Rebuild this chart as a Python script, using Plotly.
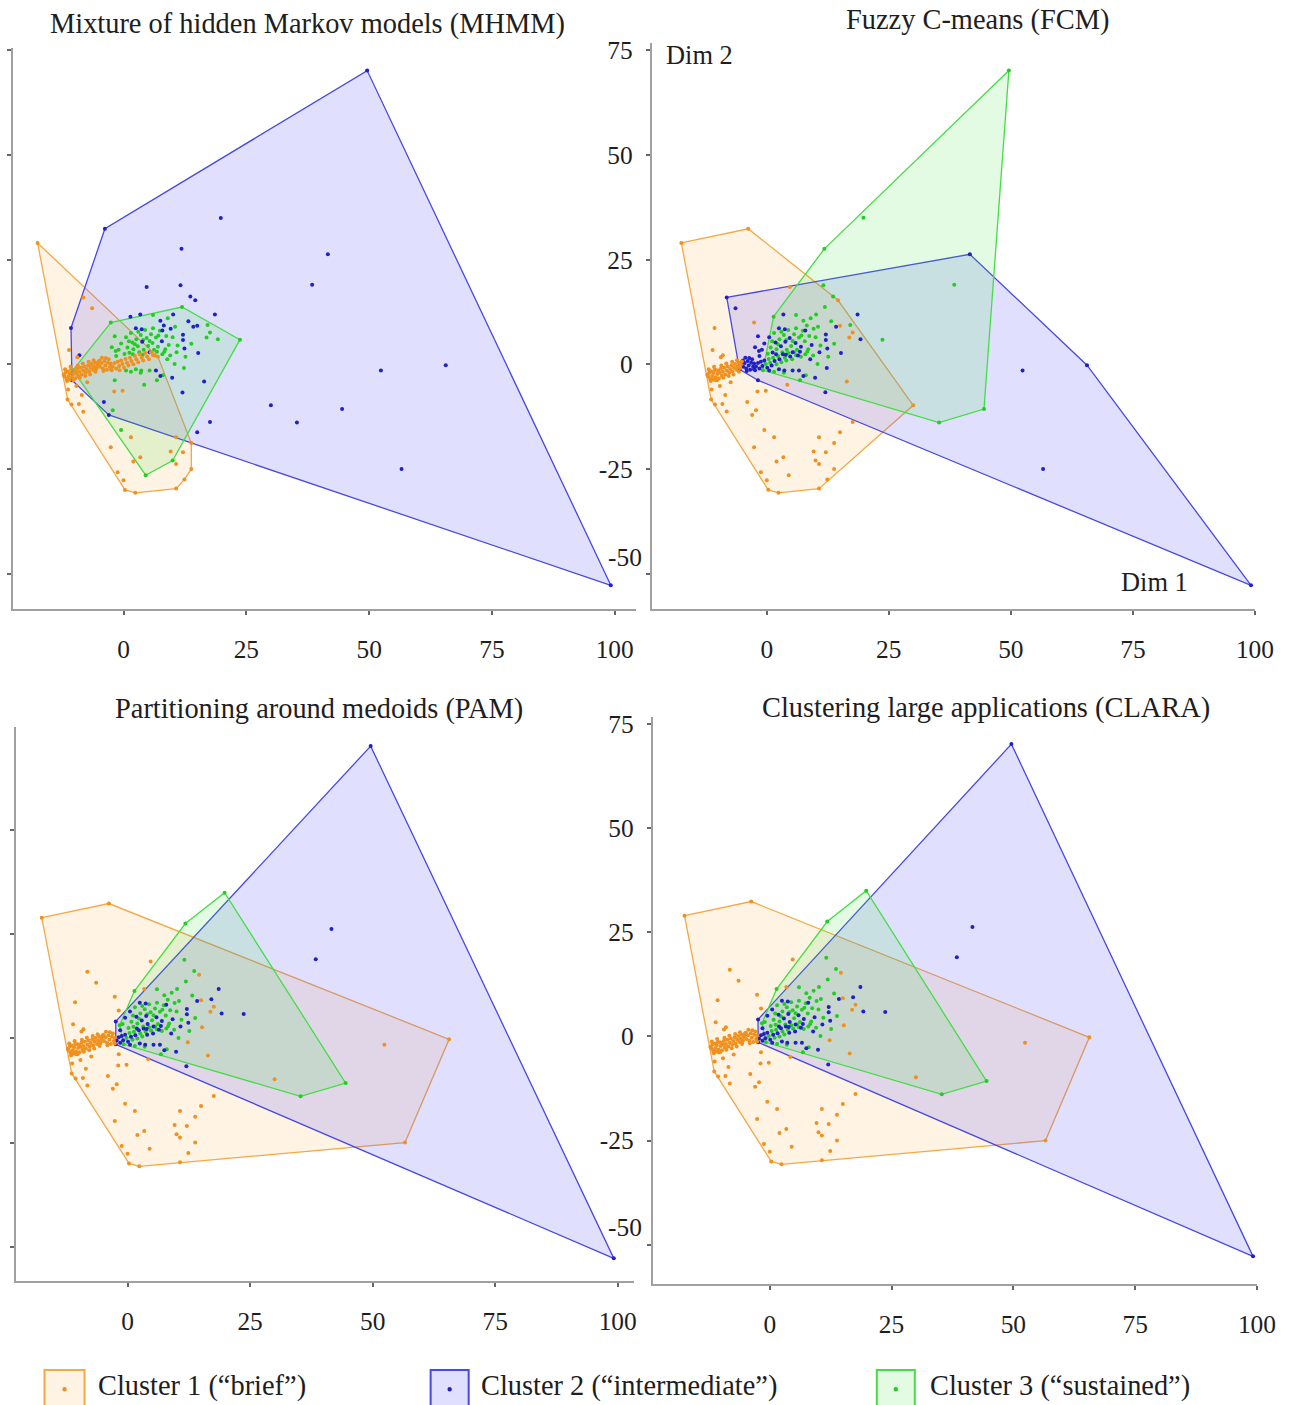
import plotly.graph_objects as go

FW, FH = 1296, 1405

# ---------------------------------------------------------------
# Data: projected observations (Dim 1, Dim 2), grouped by their
# cluster labels in (MHMM, FCM, PAM, CLARA). 1=brief, 2=intermediate, 3=sustained
# ---------------------------------------------------------------
g1111 = [(-17.5, 29.0), (-12.2, -2.5),
         (-12.0, -2.9), (-11.8, -2.0), (-11.6, -3.5), (-11.4, -1.7), (-11.2, -2.8), (-11.0, -3.6),
         (-10.9, -2.1), (-10.7, -1.3), (-10.5, -3.1), (-10.1, -2.3), (-9.9, -1.5), (-9.8, -3.3),
         (-9.6, -2.0), (-9.4, -1.0), (-9.2, -2.7), (-9.0, -1.8), (-8.7, -0.8), (-8.5, -2.4),
         (-8.2, -1.5), (-8.0, -0.5), (-7.7, -2.0), (-7.5, -1.1), (-7.2, -0.2), (-7.0, -1.7),
         (-6.7, -0.8), (-6.5, 0.1), (-6.2, -1.3), (-6.0, -0.5), (-5.8, 0.4), (-5.5, -0.9),
         (-5.3, -0.1), (-5.1, 0.7),
         (-11.9, -1.2), (-11.5, -4.0), (-10.8, -0.6), (-10.2, -3.8), (-9.3, -0.3), (-8.9, -3.2),
         (-8.3, 0.2), (-7.8, -2.8), (-7.1, 0.6), (-6.8, -2.4), (-6.1, 1.0), (-5.7, -1.8),
         (-11.1, 3.4), (-9.4, 1.7), (-11.3, -6.0), (-11.4, -8.4), (-10.6, -9.6), (-9.1, -9.5),
         (-8.5, -7.3), (-8.2, -11.3), (-7.4, -4.3), (-9.6, -5.2), (-1.9, -6.5), (-0.2, -6.3),
         (1.5, -17.4), (3.4, -22.2), (2.0, -23.2), (-2.6, -19.8), (10.7, -17.4), (9.6, -20.8),
         (12.1, -21.0), (10.7, -23.8), (13.8, -25.0), (-1.2, -25.8), (0.0, -27.7), (0.3, -30.0),
         (2.4, -30.7), (10.7, -29.7), (12.4, -27.5), (13.8, -18.8)]
g2111 = [(-3.8, 32.4), (-10.7, 8.7), (-10.5, -3.8), (-4.0, -9.0), (-3.0, -12.1), (30.0, -9.8),
         (14.6, 15.3), (15.0, 9.2), (16.4, -4.1), (17.6, -13.8), (15.0, -16.2), (4.7, 18.5),
         (-9.0, 2.2)]
g3111 = [(-2.6, 10.0), (16.9, 6.4), (17.6, 7.6), (4.2, -4.9), (-0.5, -15.7), (4.5, -26.5),
         (10.0, -23.0), (-2.2, -11.0), (-10.3, -1.4)]
g1211 = [(-8.2, 16.0), (-6.4, 13.4), (-5.6, -1.2), (-5.2, 0.1), (-4.9, 0.9), (-4.8, -0.6),
         (-4.5, 0.3), (-4.4, 1.6), (-4.2, -1.0), (-4.1, -1.6), (-3.9, 0.8), (-3.7, -0.3),
         (-3.6, 1.5), (-3.4, -1.3), (-3.2, 0.4), (-3.0, 1.2), (-2.8, -0.6), (-2.6, 0.2),
         (-2.6, -1.2)]
g3211 = [(-1.8, -3.8), (-1.8, 6.7), (12.3, -0.9)]
g2211 = [(65.6, -0.2), (52.4, -1.5), (56.6, -25.0), (15.2, 2.7), (3.4, 11.9)]
g2222 = [(99.2, -52.8), (41.6, 26.3), (12.0, -6.7), (18.6, 11.9), (14.2, 9.0), (12.1, 7.1),
         (12.1, 5.8), (3.7, 8.4), (2.5, 8.6), (3.8, 5.4), (5.3, 2.9), (7.9, 8.1), (6.6, -1.5),
         (12.4, 3.8), (9.9, -3.2), (7.5, -2.8)]
g2322 = [(49.6, 70.2), (38.4, 19.0)]
g2333 = [(44.5, -10.7), (35.3, -13.9), (19.8, 35.0), (11.8, 27.6), (11.6, 18.9), (13.6, 16.2),
         (13.2, 10.3), (7.8, 5.5), (9.6, 8.5), (7.5, 10.4), (1.4, 11.4), (8.2, 9.3), (10.1, 11.9)]
g3322 = [(23.7, 5.9), (17.1, 9.4), (4.1, 3.5)]
g3222 = [(19.2, 6.0), (-1.5, 2.0), (-0.5, 5.0), (0.5, 6.5), (1.8, 5.2), (2.9, 4.3), (5.9, 5.1),
         (7.0, 4.2), (9.2, 4.6), (0.5, -1.5), (2.5, -1.2), (3.6, -1.5), (5.3, -1.5), (-2.4, 4.1),
         (1.9, 2.4), (3.9, 2.3), (6.8, 3.0), (8.9, 1.2), (10.8, 2.9)]
g3233 = [(-1.6, 3.2), (-1.0, 3.5), (1.2, 2.8), (4.7, 6.3)]
g3333 = [(11.9, 13.7), (10.0, 6.5), (8.5, 3.6), (10.4, 0.1), (6.8, -3.8), (6.0, 11.8), (9.0, 11.0),
         (10.5, 9.0), (0.2, 2.5), (0.8, 4.0), (1.5, 7.5), (2.0, 3.6), (2.6, 6.0), (3.2, 2.9),
         (3.5, 7.0), (4.4, 8.2), (5.0, 4.4), (5.6, 7.2), (6.2, 3.5), (6.6, 6.4), (7.4, 8.0),
         (8.3, 3.0), (8.7, 6.8), (1.5, -1.8), (3.5, -2.0), (8.0, -2.6),
         (1.1, 5.5), (2.3, 4.8), (3.0, 7.8), (4.0, 5.8), (5.3, 5.6), (6.0, 8.6), (7.1, 6.9),
         (7.9, 2.4), (9.5, 2.1), (11.0, 4.5), (12.6, 1.8), (13.8, 4.9)]
g1222 = [(-2.4, -1.4), (-2.2, -0.5), (-1.8, 0.3), (-1.5, -1.0), (-1.2, 0.6), (-0.9, -0.4),
         (-0.5, 0.9), (0.1, -0.8), (1.6, 0.8), (3.3, 2.4), (6.4, 2.1)]
g1233 = [(1.0, -0.3), (2.6, 1.2), (4.8, 1.9)]
g1333 = [(-0.8, -1.4), (-0.2, 0.1), (0.4, 1.3), (1.3, 1.6), (2.0, 0.0), (3.0, 0.5), (3.7, 1.6),
         (4.4, 2.7), (5.6, 2.9), (6.0, 2.2), (7.0, 1.8)]
g1322 = [(0.7, 0.4), (2.3, 2.0), (4.0, 0.9), (5.2, 1.2)]

GROUPS = [((1, 1, 1, 1), g1111), ((2, 1, 1, 1), g2111), ((3, 1, 1, 1), g3111),
          ((1, 2, 1, 1), g1211), ((3, 2, 1, 1), g3211), ((2, 2, 1, 1), g2211),
          ((2, 2, 2, 2), g2222), ((2, 3, 2, 2), g2322), ((2, 3, 3, 3), g2333),
          ((3, 3, 2, 2), g3322), ((3, 2, 2, 2), g3222), ((3, 2, 3, 3), g3233),
          ((3, 3, 3, 3), g3333), ((1, 2, 2, 2), g1222), ((1, 2, 3, 3), g1233),
          ((1, 3, 3, 3), g1333), ((1, 3, 2, 2), g1322)]

dim1, dim2 = [], []
lab_mhmm, lab_fcm, lab_pam, lab_clara = [], [], [], []
for labs, pts in GROUPS:
    for x, y in pts:
        dim1.append(x)
        dim2.append(y)
        lab_mhmm.append(labs[0])
        lab_fcm.append(labs[1])
        lab_pam.append(labs[2])
        lab_clara.append(labs[3])

cluster_names = {1: "Cluster 1 (\u201cbrief\u201d)",
                 2: "Cluster 2 (\u201cintermediate\u201d)",
                 3: "Cluster 3 (\u201csustained\u201d)"}
x_ticks = [0, 25, 50, 75, 100]
y_ticks = [-50, -25, 0, 25, 50, 75]
y_ticktext = ["", "-25", "0", "25", "50", "75"]   # "-50" drawn separately (raised, as in original)

# ---------------------------------------------------------------
# Styles
# ---------------------------------------------------------------
PT = {1: "#F0901E", 2: "#2020C8", 3: "#22CC22"}
LN = {1: "#F5A845", 2: "#4848E4", 3: "#45DD45"}
FL = {1: "rgba(255,170,60,0.14)", 2: "rgba(90,90,250,0.19)", 3: "rgba(60,230,60,0.14)"}
FONT = "Liberation Serif"
TXT = "#1e1e1e"


def convex_hull(points):
    pts = sorted(set(points))
    if len(pts) <= 2:
        return pts

    def cross(o, a, b):
        return (a[0] - o[0]) * (b[1] - o[1]) - (a[1] - o[1]) * (b[0] - o[0])

    lower, upper = [], []
    for p in pts:
        while len(lower) >= 2 and cross(lower[-2], lower[-1], p) <= 0:
            lower.pop()
        lower.append(p)
    for p in reversed(pts):
        while len(upper) >= 2 and cross(upper[-2], upper[-1], p) <= 0:
            upper.pop()
        upper.append(p)
    return lower[:-1] + upper[:-1]


# layout pixel -> paper fraction, with a small calibration of the capture geometry
KX, OX, KY, OY = 0.985, -0.5, 0.9963, 4.2


def px_x(v):
    return ((v - OX) / KX) / FW


def px_y(v):
    return 1 - ((v - OY) / KY) / FH


S = 1 / KX   # font scale


def T(s):
    return round(s * S, 1)


# panel geometry in pixels: axis extents and pixel positions of data origin
panels = [
    dict(title="Mixture of hidden Markov models (MHMM)", labels=lab_mhmm,
         xpx=(12, 635), ypx=(45, 607), ox=123, sx=4.91, oy=362, sy=4.19,
         ylab=False, tpos=(307, 21), m50=None),
    dict(title="Fuzzy C-means (FCM)", labels=lab_fcm,
         xpx=(651, 1254), ypx=(40, 607), ox=766, sx=4.88, oy=362, sy=4.19,
         ylab=True, tpos=(977, 17), m50=(643, 555)),
    dict(title="Partitioning around medoids (PAM)", labels=lab_pam,
         xpx=(15, 633), ypx=(725, 1280), ox=127, sx=4.90, oy=1037, sy=4.17,
         ylab=False, tpos=(318, 707), m50=None),
    dict(title="Clustering large applications (CLARA)", labels=lab_clara,
         xpx=(652, 1256), ypx=(715, 1283), ox=769, sx=4.87, oy=1035, sy=4.17,
         ylab=True, tpos=(985, 706), m50=(643, 1226)),
]

fig = go.Figure()
annotations = []
layout_axes = {}

for i, p in enumerate(panels, start=1):
    xa = "x" if i == 1 else f"x{i}"
    ya = "y" if i == 1 else f"y{i}"
    labels = p["labels"]

    # hulls
    for c in (1, 2, 3):
        pts = [(dim1[k], dim2[k]) for k in range(len(dim1)) if labels[k] == c]
        hull = convex_hull(pts)
        hx = [q[0] for q in hull] + [hull[0][0]]
        hy = [q[1] for q in hull] + [hull[0][1]]
        fig.add_trace(go.Scatter(x=hx, y=hy, mode="lines", fill="toself",
                                 fillcolor=FL[c], line=dict(color=LN[c], width=1.3),
                                 xaxis=xa, yaxis=ya, showlegend=False, hoverinfo="skip"))
    # points
    for c in (3, 2, 1):
        px_ = [dim1[k] for k in range(len(dim1)) if labels[k] == c]
        py_ = [dim2[k] for k in range(len(dim1)) if labels[k] == c]
        fig.add_trace(go.Scatter(x=px_, y=py_, mode="markers",
                                 marker=dict(color=PT[c], size=4, line=dict(width=0)),
                                 name=cluster_names[c], xaxis=xa, yaxis=ya, showlegend=False))

    x0, x1 = p["xpx"]
    y0, y1 = p["ypx"]
    xr = [(x0 - p["ox"]) / p["sx"], (x1 - p["ox"]) / p["sx"]]
    yr = [(p["oy"] - y1) / p["sy"], (p["oy"] - y0) / p["sy"]]
    common = dict(showline=True, linecolor="#a0a0a0", linewidth=2, showgrid=False,
                  zeroline=False, ticks="outside", ticklen=4, tickwidth=1.5,
                  tickcolor="#666666",
                  tickfont=dict(family=FONT, size=T(25), color=TXT))
    layout_axes["xaxis" if i == 1 else f"xaxis{i}"] = dict(
        common, range=xr, domain=[px_x(x0), px_x(x1)], anchor=ya, tickvals=x_ticks,
        ticklabelstandoff=12)
    layout_axes["yaxis" if i == 1 else f"yaxis{i}"] = dict(
        common, range=yr, domain=[px_y(y1), px_y(y0)], anchor=xa, tickvals=y_ticks,
        ticktext=y_ticktext, showticklabels=p["ylab"], ticklabelstandoff=8)

    if p["m50"] is not None:
        mx, my = p["m50"]
        annotations.append(dict(text="-50", x=px_x(mx), y=px_y(my), xref="paper", yref="paper",
                                showarrow=False, xanchor="right", yanchor="middle",
                                font=dict(family=FONT, size=T(25), color=TXT)))

    tx, ty = p["tpos"]
    annotations.append(dict(text=p["title"], x=px_x(tx), y=px_y(ty), xref="paper", yref="paper",
                            showarrow=False, xanchor="center", yanchor="middle",
                            font=dict(family=FONT, size=T(28), color=TXT)))

# axis name labels in FCM panel
annotations.append(dict(text="Dim 2", x=px_x(663), y=px_y(52), xref="paper", yref="paper",
                        showarrow=False, xanchor="left", yanchor="middle",
                        font=dict(family=FONT, size=T(26), color=TXT)))
annotations.append(dict(text="Dim 1", x=px_x(1189), y=px_y(580), xref="paper", yref="paper",
                        showarrow=False, xanchor="right", yanchor="middle",
                        font=dict(family=FONT, size=T(26), color=TXT)))

# custom legend
shapes = []
leg = [(1, 44, 84, 95), (2, 430, 468, 478), (3, 876, 914, 927)]
for c, bx0, bx1, tx in leg:
    shapes.append(dict(type="rect", xref="paper", yref="paper",
                       x0=px_x(bx0), x1=px_x(bx1), y0=px_y(1420), y1=px_y(1369),
                       line=dict(color=LN[c], width=2), fillcolor=FL[c]))
    cx = (bx0 + bx1) / 2
    shapes.append(dict(type="circle", xref="paper", yref="paper",
                       x0=px_x(cx - 2.2), x1=px_x(cx + 2.2),
                       y0=px_y(1390.5), y1=px_y(1386),
                       line=dict(color=PT[c], width=0), fillcolor=PT[c]))
    annotations.append(dict(text=cluster_names[c], x=px_x(tx), y=px_y(1385),
                            xref="paper", yref="paper", showarrow=False,
                            xanchor="left", yanchor="middle",
                            font=dict(family=FONT, size=T(28), color=TXT)))

fig.update_layout(width=FW, height=FH, margin=dict(l=0, r=0, t=0, b=0),
                  paper_bgcolor="white", plot_bgcolor="white",
                  annotations=annotations, shapes=shapes, showlegend=False,
                  **layout_axes)

fig.write_html("out.html", config={"displayModeBar": False, "responsive": False},
               post_script="document.body.style.margin='0px';"
                           "document.body.style.overflow='hidden';")
